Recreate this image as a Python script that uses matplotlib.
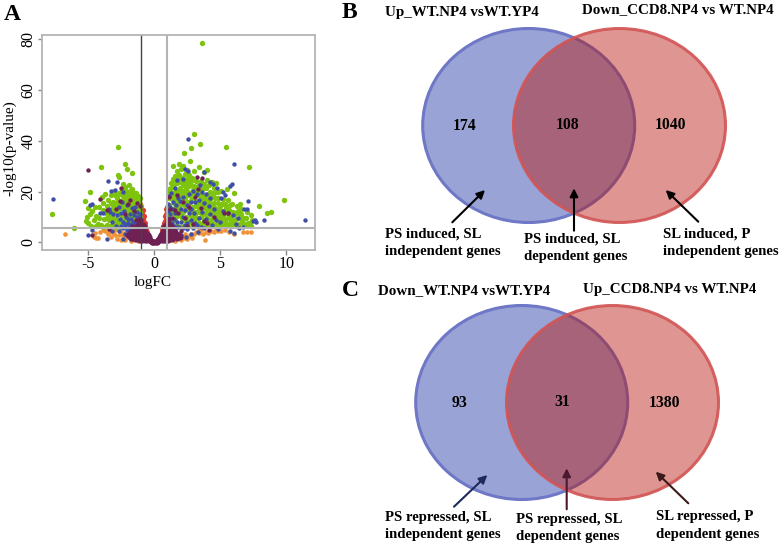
import matplotlib
matplotlib.use("Agg")
import matplotlib.pyplot as plt
from matplotlib.patches import Ellipse

plt.rcParams["font.family"] = ["Liberation Serif", "DejaVu Serif"]
plt.rcParams["axes.unicode_minus"] = False

# volcano points, (logFC, -log10 p)
green_left = [
    (-7.75, 11), (-6.1, 5.8), (-5.25, 16.3), (-4.85, 20), (-4, 29.5), (-2.78, 37.5), (-2.2, 30.7), (-2.1, 28.8),
    (-2.78, 26.5), (-2.7, 25.9), (-1.67, 27.3), (-5.2, 8.5), (-5.1, 9.8), (-5.05, 7.5), (-5, 13.5), (-4.9, 11),
    (-4.7, 12.5), (-4.6, 8.8), (-4.5, 13.8), (-4.45, 10.2), (-4.3, 7.4), (-4.2, 9.4), (-4.15, 13.9), (-4, 7),
    (-3.95, 17.8), (-3.9, 12.6), (-3.85, 15.3), (-3.8, 9.1), (-3.7, 19), (-3.65, 11.6), (-3.6, 6.8), (-3.55, 14.5),
    (-3.5, 16.7), (-3.4, 8.6), (-3.35, 12.4), (-3.3, 18.6), (-3.25, 6.4), (-3.2, 10.2), (-3.15, 14.2), (-3.1, 16),
    (-3.05, 20.2), (-3, 7.8), (-2.95, 12.2), (-2.9, 9.2), (-2.85, 17.6), (-2.8, 14.6), (-2.75, 6.6), (-2.7, 19.6),
    (-2.65, 11), (-2.6, 16.2), (-2.55, 8.4), (-2.5, 13.4), (-2.45, 20.6), (-2.4, 22.8), (-2.38, 6.4), (-2.35, 18.2),
    (-2.3, 10.6), (-2.25, 15.6), (-2.2, 12.4), (-2.18, 21.8), (-2.15, 8.2), (-2.1, 17.4), (-2.05, 6.2), (-2, 19.8),
    (-2, 14), (-1.98, 10.8), (-1.95, 22.6), (-1.9, 16.4), (-1.85, 7.6), (-1.82, 12.8), (-1.8, 20.8), (-1.78, 18.6),
    (-1.75, 9.6), (-1.7, 14.8), (-1.68, 6.2), (-1.65, 11.6), (-1.6, 16.6), (-1.58, 19.8), (-1.55, 8.2), (-1.5, 13.2),
    (-1.48, 18), (-1.45, 10.2), (-1.42, 6.8), (-1.4, 15.2), (-1.38, 12), (-1.35, 17.6), (-1.32, 8.8), (-1.3, 14),
    (-1.28, 6.2), (-1.25, 10.8), (-1.22, 16.4), (-1.2, 18.2), (-1.18, 12.8), (-1.15, 7.8), (-1.12, 15), (-1.1, 9.8),
    (-1.08, 17.4), (-1.05, 12), (-1.03, 6.4), (-1.02, 14.4), (-2.9, 5.9), (-2.5, 6.1), (-3.45, 5.9), (-3.8, 6.2),
    (-2.15, 13), (-2.55, 11), (-2.75, 16), (-3, 18.5), (-1.9, 8.8), (-2.3, 7.2), (-2.6, 19), (-3.2, 12.8),
    (-1.7, 21), (-1.55, 15.5), (-3.6, 9.5), (-4.8, 6.6), (-4.4, 6.4), (-3.1, 8.6), (-2.05, 9.8), (-2.35, 13.6),
    (-2.8, 12), (-2.7, 8), (-2.45, 15), (-2.2, 18.6), (-2.1, 15), (-1.9, 13.6), (-1.95, 18), (-1.75, 16.2),
    (-1.6, 13.4), (-1.5, 16.8), (-1.4, 19.4), (-1.3, 11.8), (-1.2, 14.8), (-1.35, 9.8), (-1.6, 9.8), (-1.8, 11.4),
    (-2.45, 9.6), (-2.25, 8.8), (-2.6, 13.4), (-2.9, 15.4), (-3.3, 15.6), (-3.5, 11), (-2.95, 7.2), (-3.2, 6.6),
    (-2.15, 20.2), (-1.85, 20), (-1.65, 18), (-2.35, 16.6), (-2.05, 12), (-1.1, 11.4), (-1.15, 16.8), (-1.5, 7.6),
]
green_right = [
    (3.6, 78.4), (2.98, 42.7), (3.48, 38.9), (2.75, 37), (5.4, 37.4), (2.25, 35), (2.73, 32), (7.2, 29.7),
    (9.8, 16.7), (7.95, 14.2), (8.84, 11.8), (8.56, 11.4), (1.4, 30), (1.9, 31), (2.15, 30.2), (2.5, 28.6),
    (3.35, 29.6), (3.8, 27.6), (4.02, 28.5), (3, 28.2), (2.05, 28.8), (1.7, 28.2), (1.6, 26), (1.85, 26.6),
    (2.3, 27), (2.65, 26.4), (1.45, 25), (2.1, 25.4), (2.45, 25), (2.85, 25.2), (3.5, 24.2), (4.4, 23.6),
    (4.7, 23.2), (5.05, 20.4), (5.5, 21), (6, 19.4), (6.5, 15.2), (1.1, 21), (1.3, 21.6), (1.5, 22.8),
    (1.75, 23.4), (2, 23.6), (2.35, 22.6), (2.7, 22.8), (3, 22), (3.25, 21.8), (3.6, 21), (3.95, 21.6),
    (4.25, 20), (4.55, 19.6), (4.85, 17.6), (5.2, 17), (5.6, 16.6), (5.9, 15), (6.25, 14.2), (6.6, 13.2),
    (7, 12), (7.3, 10.6), (7.4, 8.6), (7.35, 6.4), (7.1, 7.6), (6.8, 9.4), (6.5, 11), (6.2, 9),
    (5.95, 12), (5.7, 7.8), (5.45, 13.6), (5.2, 10.4), (5, 14.4), (4.85, 7.6), (4.7, 12), (4.55, 15.6),
    (4.4, 9), (4.25, 17.2), (4.1, 12.6), (3.95, 7.2), (3.8, 18), (3.7, 14.4), (3.55, 10), (3.4, 18.8),
    (3.3, 7), (3.15, 15.6), (3.05, 12), (2.95, 19.4), (2.85, 9), (2.75, 16.6), (2.65, 6.6), (2.55, 20),
    (2.45, 13), (2.35, 17.6), (2.25, 8.8), (2.15, 20.4), (2.05, 15), (1.95, 11), (1.85, 18.4), (1.75, 7),
    (1.65, 20.4), (1.55, 13.6), (1.45, 17), (1.35, 9), (1.25, 19), (1.15, 14.6), (1.08, 17.4), (1.05, 10.6),
    (1.2, 6.6), (1.4, 12), (1.6, 8.6), (1.8, 15), (2, 6.2), (2.2, 12), (2.4, 10), (2.6, 15.6),
    (2.8, 12.4), (3, 6.6), (3.2, 9.4), (3.35, 13), (3.5, 16), (3.75, 8.8), (3.9, 11), (4.05, 15.2),
    (4.2, 7.2), (4.35, 13), (4.5, 6.6), (4.65, 9.4), (4.8, 15.4), (4.95, 11.4), (5.1, 8.4), (5.3, 12.4),
    (5.5, 6.4), (5.55, 9.6), (5.75, 10.8), (5.85, 6.6), (6.05, 7.4), (6.35, 12.2), (6.45, 7.2), (6.7, 7.6),
    (6.95, 9.6), (7.25, 7.8), (1.3, 11.4), (1.7, 10.4), (1.9, 13.4), (2.1, 9.4), (2.3, 14.4), (2.5, 18.6),
    (2.7, 8), (2.9, 14), (3.1, 10.6), (3.3, 16.4), (3.45, 12), (3.65, 7.2), (3.85, 13.4), (4, 9.6),
    (4.3, 11), (4.6, 13.6), (4.9, 9.6), (5.15, 6.6), (5.35, 8), (5.65, 12.8), (1.5, 15.4), (1.1, 7.8),
    (2.6, 22), (3.15, 24), (1.95, 21.6), (1.6, 24), (2.25, 24.6), (3.75, 23), (4.15, 22.6), (2.9, 20.8),
    (3.45, 20), (4.05, 19), (4.6, 17.6), (5.35, 15), (1.25, 23.4), (1.85, 20), (2.4, 21), (3.2, 19),
    (3.6, 17), (4.45, 15), (5, 12.6), (5.8, 9.2), (6.1, 11), (6.6, 9), (7, 7), (4.15, 6.4),
    (1.15, 19.6), (1.35, 17), (1.6, 18.2), (1.75, 16.4), (1.95, 19), (2.2, 17.2), (2.45, 16), (2.7, 18.8),
    (2.9, 17), (3.1, 20.4), (3.25, 14.4), (3.45, 14.2), (3.6, 18.8), (3.85, 16.2), (4.05, 17), (4.2, 15),
    (4.4, 17.8), (4.55, 11), (4.75, 10), (4.9, 12.8), (5.1, 15), (5.25, 8.6), (5.5, 11.4), (5.7, 14.6),
    (3.2, 12), (3, 8.4), (2.75, 10.2), (2.5, 8.4), (2.25, 6.6), (2.05, 11.6), (1.8, 12.2), (1.55, 10.6),
    (1.25, 13), (1.15, 11.6), (1.45, 19.4), (2.35, 19.4), (3.75, 11), (3.95, 13), (4.15, 8.6), (4.45, 7.2),
    (4.75, 6.4), (5, 9.8), (5.45, 7.2), (5.9, 8), (6.3, 6.6), (6.6, 11.2), (3.4, 7.6), (2.95, 10.4),
    (2.2, 22.4), (2.8, 24), (3.35, 22.6), (4, 24.4), (4.5, 21.4), (4.85, 19.8), (2.5, 23.6), (1.95, 25.6),
]
blue_left = [
    (-7.68, 17), (-5, 2.9), (-4.7, 4.9), (-3.5, 24.3), (-2.85, 23.9), (-3.3, 20.4), (-2.4, 20), (-2.95, 20.8),
    (-4.85, 14.8), (-4.7, 15), (-4.1, 11.4), (-3.85, 11.4), (-3.45, 13), (-3.35, 12), (-3.2, 8), (-3.1, 11),
    (-2.9, 6.6), (-2.85, 10.8), (-2.7, 14), (-2.6, 9), (-2.55, 6.6), (-2.45, 16), (-2.4, 8), (-2.3, 12.4),
    (-2.2, 6), (-2.15, 10), (-2.05, 14.6), (-2, 7.6), (-1.95, 4.6), (-1.85, 11), (-1.8, 9), (-1.75, 6),
    (-1.7, 13.4), (-1.65, 4), (-1.6, 8), (-1.55, 10.6), (-1.5, 5.6), (-1.45, 14), (-1.4, 3.2), (-1.38, 7.6),
    (-1.32, 10), (-1.28, 12), (-1.25, 5), (-1.2, 8.6), (-1.15, 3), (-1.12, 6.6), (-1.1, 11), (-1.05, 9.6),
    (-1.03, 4.6), (-1, 7), (-2.65, 4.4), (-3.2, 4.6), (-3.6, 1.2), (-2.4, 1.4), (-1.9, 2), (-1.6, 1.4),
    (-2.2, 3.4), (-2.55, 11.4), (-1.7, 7.2), (-1.9, 6.8), (-1.85, 5.4), (-2.1, 5), (-2.4, 5.6), (-1.55, 3.4),
    (-1.5, 7.6), (-1.25, 7), (-1.15, 10), (-1.6, 5.4), (-2, 9.2), (-2.25, 7.4),
]
blue_right = [
    (2.55, 40.9), (6, 30.7), (11.4, 8.7), (8.3, 8.9), (7.1, 16.4), (5.85, 23), (5.7, 22), (3.8, 27.7),
    (2.3, 29), (2.55, 28), (2.2, 25), (1.7, 24.6), (4.2, 23.8), (4.45, 22.8), (4.75, 21.4), (3.45, 22.4),
    (3.6, 20), (3.9, 19.2), (5.2, 20), (5.35, 18.8), (5.05, 17.6), (4.25, 17.4), (2.95, 20.2), (3.2, 19),
    (1.55, 21.4), (1.3, 19.4), (1.1, 18.4), (1.8, 17.6), (2.2, 18), (2.6, 19), (2.75, 16), (2.5, 14.6),
    (3.05, 15.8), (3.4, 16.6), (3.8, 15.4), (4.15, 14.4), (4.55, 13), (5.2, 12.4), (5.6, 11.4), (5.95, 10.8),
    (6.8, 13.2), (7.05, 13), (7.45, 8.4), (7.6, 8.6), (7.7, 8.2), (6.7, 6.2), (6.35, 9.6), (6.15, 7.2),
    (6.45, 5.6), (6, 3.8), (5.7, 4.6), (1.2, 14), (1.05, 12.2), (1.4, 13), (1.15, 9.6), (1.35, 7.6),
    (1.6, 11.6), (1.75, 8), (1.9, 6), (2, 13.2), (2.15, 10), (2.3, 7), (2.45, 5.4), (2.6, 11.4),
    (2.8, 8.6), (3, 11.6), (3.2, 6.8), (3.4, 9.4), (3.6, 11.8), (3.75, 5.6), (3.95, 9), (4.2, 11),
    (4.35, 6.8), (4.65, 8.6), (4.8, 5.2), (5, 8), (1.1, 4.6), (1.3, 3.6), (1.55, 4.8), (1.8, 3.4),
    (2.05, 3), (2.4, 2.2), (2.8, 3.2), (3.3, 4.2), (1.45, 16), (1.65, 14.8), (1.95, 16.2), (2.35, 12.6),
    (1.25, 5.6), (1.5, 6.4), (2.75, 13), (1.1, 7), (1.2, 11), (1.5, 9), (1.7, 6), (2, 8),
    (2.2, 5.8), (2.5, 7.8), (3.1, 7.8), (1.05, 15), (2.9, 5.6), (3.5, 6.2),
]
maroon = [
    (-5, 28.4), (3.2, 25.9), (3.6, 25.2), (-4.7, 2.9), (-4.1, 17), (-2.5, 21.3), (-2, 15), (-1.3, 15.6),
    (-2.9, 13), (-3.6, 12.6), (-3.4, 5.2), (-2.2, 11.2), (-1.5, 12.4), (-1.65, 6.6), (-2.6, 16.4), (-1.85, 16.6),
    (1.1, 18), (1.2, 13), (1.55, 12.6), (1.35, 9.4), (1.8, 11.4), (2.15, 16), (2.3, 9.6), (2.6, 14),
    (2.95, 7.2), (3.05, 18), (3.3, 21), (3.55, 13.6), (3.8, 8.4), (4, 7.8), (4.15, 4.8), (4.55, 10),
    (5.3, 11.6), (5.55, 11.6), (2.5, 6.6), (1.7, 18.6), (1.45, 5), (1.05, 6.6), (2, 4.4), (-1.1, 14.4),
    (-1.05, 8.4), (-1.4, 8.8), (-1.7, 3.2), (-1.25, 6.6),
]
orange = [
    (-6.75, 3.3), (-4.55, 2), (-4.4, 1.6), (-4.25, 1.6), (-4.5, 3.6), (-4.1, 4.2), (-3.9, 5), (-3.7, 4.6),
    (-3.5, 3.4), (-3.3, 2.2), (-3.15, 3.6), (-3, 4.8), (-2.85, 1.4), (-2.7, 3), (-2.55, 0.8), (-2.4, 2.4),
    (-2.2, 1), (-2.05, 4), (-1.95, 2.8), (-1.8, 0.6), (-1.65, 2.2), (-1.5, 1), (-1.3, 1.6), (-1.2, 0.6),
    (-3.45, 4.2), (-2.95, 2.8), (-2.6, 4.4), (-2.3, 3.6), (-1.85, 3.6), (-2.5, 3.4), (-2.1, 2.2),
    (1.2, 0.8), (1.4, 1.2), (1.6, 0.6), (1.8, 1.6), (2, 1), (2.15, 2.2), (2.35, 1.6), (2.5, 1.2),
    (2.6, 2.6), (2.75, 3.4), (2.85, 1.8), (3, 3.2), (3.15, 4), (3.4, 3.6), (3.55, 4.8), (3.7, 3.2),
    (3.85, 1), (3.95, 4), (4.1, 3.6), (4.3, 4.4), (4.5, 4.2), (4.65, 5), (4.8, 4.6), (5.35, 4.8),
    (5.65, 4), (6.05, 3.4), (6.75, 4.2), (7, 4.2), (7.35, 4.2), (1.9, 3.2), (2.3, 3.4), (3.35, 4.8),
    (5.05, 4.4),
]
red = [
    (-1.05, 15), (-1, 13.6), (-0.95, 12), (-0.9, 10.6), (-0.88, 12.8), (-0.85, 9), (-0.8, 10.4), (-0.78, 8),
    (-0.72, 7.8), (-0.68, 6.4), (-0.62, 5.2), (-0.58, 4.2), (-0.95, 8.4), (-0.9, 7), (-0.82, 6),
    (1, 14), (0.97, 12.4), (0.92, 13), (0.9, 11), (0.86, 9.6), (0.82, 10.4), (0.78, 8.4), (0.72, 7.6),
    (0.68, 6.4), (0.62, 5.2), (0.58, 4.2), (0.95, 8.6), (0.88, 7), (0.8, 6),
]
bulk = [
    (-2, 3), (-1.8, 1.6), (-1.75, 4), (-1.6, 4.2), (-1.5, 2.4), (-1.45, 3.6), (-1.4, 5), (-1.35, 1.4),
    (-1.3, 3), (-1.25, 4.4), (-1.2, 1.8), (-1.15, 5.4), (-1.1, 3.2), (-1.05, 0.8), (-1, 4.6), (-0.95, 2.2),
    (-0.9, 5.6), (-0.85, 3.8), (-0.8, 1.2), (-0.75, 4.8), (-0.72, 2.8), (-0.68, 4), (-0.65, 1.2), (-0.6, 3.2),
    (-0.55, 2.4), (-0.5, 3), (-0.48, 1.2), (-0.42, 2), (-0.38, 1.2), (-0.3, 1), (-0.25, 0.5), (-0.18, 0.3),
    (-0.1, 0.1), (0, 0), (0.1, 0.1), (0.18, 0.3), (0.25, 0.5), (0.3, 1), (0.38, 1.2), (0.42, 2),
    (0.48, 1.2), (0.5, 3), (0.55, 2.4), (0.6, 3.2), (0.65, 1.2), (0.68, 4), (0.72, 2.8), (0.75, 4.8),
    (0.8, 1.2), (0.85, 3.8), (0.9, 5.6), (0.95, 2.2), (1, 4.6), (1.05, 0.8), (1.1, 3.2), (1.15, 5.4),
    (1.2, 1.8), (1.25, 4.4), (1.3, 3), (1.35, 1.4), (1.4, 5), (1.45, 3.6), (1.5, 2.4), (1.6, 4.2),
    (1.7, 1.6), (-1.7, 1.6), (1.8, 3), (1.95, 2), (-1.1, 1.6), (-0.7, 0.9), (-0.55, 0.8), (-0.9, 0.8),
    (1.1, 1.6), (0.7, 0.9), (0.55, 0.8), (0.9, 0.8), (-0.85, 7), (0.85, 7), (-1.15, 7), (1.15, 7),
    (-1.05, 8.6), (1.02, 8.6), (-1.3, 6.4), (1.3, 6.4), (-0.75, 6.2), (0.75, 6.2),
]

xticks = [-5, 0, 5, 10]
yticks = [0, 20, 40, 60, 80]

# venn numbers and labels
venn_b = ["174", "108", "1040"]
venn_c = ["93", "31", "1380"]
GREY = "#b4b4b4"


def scatter(ax, pts, color, size=14):
    ax.scatter([p[0] for p in pts], [p[1] for p in pts], s=size, c=color, linewidths=0)


def venn(ax, cx_blue, cx_red, cy, counts, count_xy):
    ax.add_patch(Ellipse((cx_blue, cy), 212, 194, fc="#9aa3d5", ec="#6f78c6", lw=2.2))
    ax.add_patch(Ellipse((cx_red, cy), 212, 194, fc=(0.72, 0.09, 0.05, 0.45), ec=(0.82, 0.33, 0.33, 0.9), lw=2.2))
    for count, (x, y) in zip(counts, count_xy):
        ax.text(x, y, count, ha="center", va="center", fontsize=11.3, fontweight="bold")


def arrow(ax, tail, head, color="black"):
    ax.annotate("", xy=head, xytext=tail,
                arrowprops=dict(arrowstyle="-|>", color=color, lw=1.5, mutation_scale=12, shrinkA=0, shrinkB=0))


def label(ax, x, y, text):
    ax.text(x, y, text, ha="left", va="center", fontsize=10.6, fontweight="bold", linespacing=1.45)


fig = plt.figure(figsize=(7.8, 5.45), dpi=100)
ax = fig.add_axes([42.3 / 780, 1 - 250 / 545, (315 - 42.3) / 780, (250 - 35) / 545])

scatter(ax, orange, "#f0923a", size=11)
scatter(ax, red, "#dd3b2e")
scatter(ax, green_left + green_right, "#7ec40f", size=15)
scatter(ax, blue_left + blue_right, "#3f4ea6", size=10)
scatter(ax, bulk, "#6e2152", size=20)
scatter(ax, maroon, "#6e2152", size=10)

ax.axvline(-1, color="#444444", lw=1)
ax.axvline(1, color=GREY, lw=1.5)
ax.axhline(5.5, color=GREY, lw=1.5)
ax.set_xlim(-8.48, 12.17)
ax.set_ylim(-3.03, 81.7)
ax.set_xticks(xticks)
ax.set_yticks(yticks)
ax.tick_params(axis="x", color="#888888", labelsize=11.5, length=3.5, width=1, pad=1)
ax.tick_params(axis="y", color="#888888", labelsize=11.5, length=3, width=1, pad=1, labelrotation=90)
for t in ax.get_yticklabels():
    t.set_va("center")
for s in ax.spines.values():
    s.set_color(GREY)
    s.set_linewidth(1.3)
ax.set_xlabel("logFC", fontsize=11, va="center")
ax.set_ylabel("-log10(p-value)", fontsize=11, va="center")
ax.xaxis.set_label_coords(0.406, -0.149)
ax.yaxis.set_label_coords(-0.118, 0.474)

# overlay in pixel coordinates for the two venn panels
ov = fig.add_axes([0, 0, 1, 1])
ov.set_xlim(0, 780)
ov.set_ylim(545, 0)
ov.axis("off")
ov.patch.set_alpha(0)

venn(ov, 528.7, 619.5, 125.5, venn_b, [(465, 126), (568, 125), (671, 125)])
venn(ov, 521.7, 612.5, 402.5, venn_c, [(459.3, 402.7), (562.3, 402), (665, 403)])

arrow(ov, (452.3, 222.3), (485, 190))
arrow(ov, (574, 230.7), (574, 188.3))
arrow(ov, (698.3, 221.7), (665.7, 190))
arrow(ov, (454, 506.7), (487.3, 475), "#1c2a5c")
arrow(ov, (566.7, 509.3), (566.7, 468.3), "#4a1830")
arrow(ov, (688.3, 503.3), (655.7, 471.7), "#3a1a1a")

for x, y, s in [(385, 12.7, "Up_WT.NP4 vsWT.YP4"), (582, 10, "Down_CCD8.NP4 vs WT.NP4"),
                (377.7, 291, "Down_WT.NP4 vsWT.YP4"), (582.7, 289.3, "Up_CCD8.NP4 vs WT.NP4")]:
    ov.text(x, y, s, ha="left", va="center", fontsize=10.8, fontweight="bold")

label(ov, 385, 243, "PS induced, SL\nindependent genes")
label(ov, 524, 248, "PS induced, SL\ndependent genes")
label(ov, 662.7, 243, "SL induced, P\nindependent genes")
label(ov, 385, 526, "PS repressed, SL\nindependent genes")
label(ov, 516, 528, "PS repressed, SL\ndependent genes")
label(ov, 656, 525.5, "SL repressed, P\ndependent genes")

for x, y, s in [(4, 14, "A"), (342, 12, "B"), (342, 291, "C")]:
    ov.text(x, y, s, ha="left", va="center", fontsize=17, fontweight="bold")

fig.savefig("out.png", dpi=100)
